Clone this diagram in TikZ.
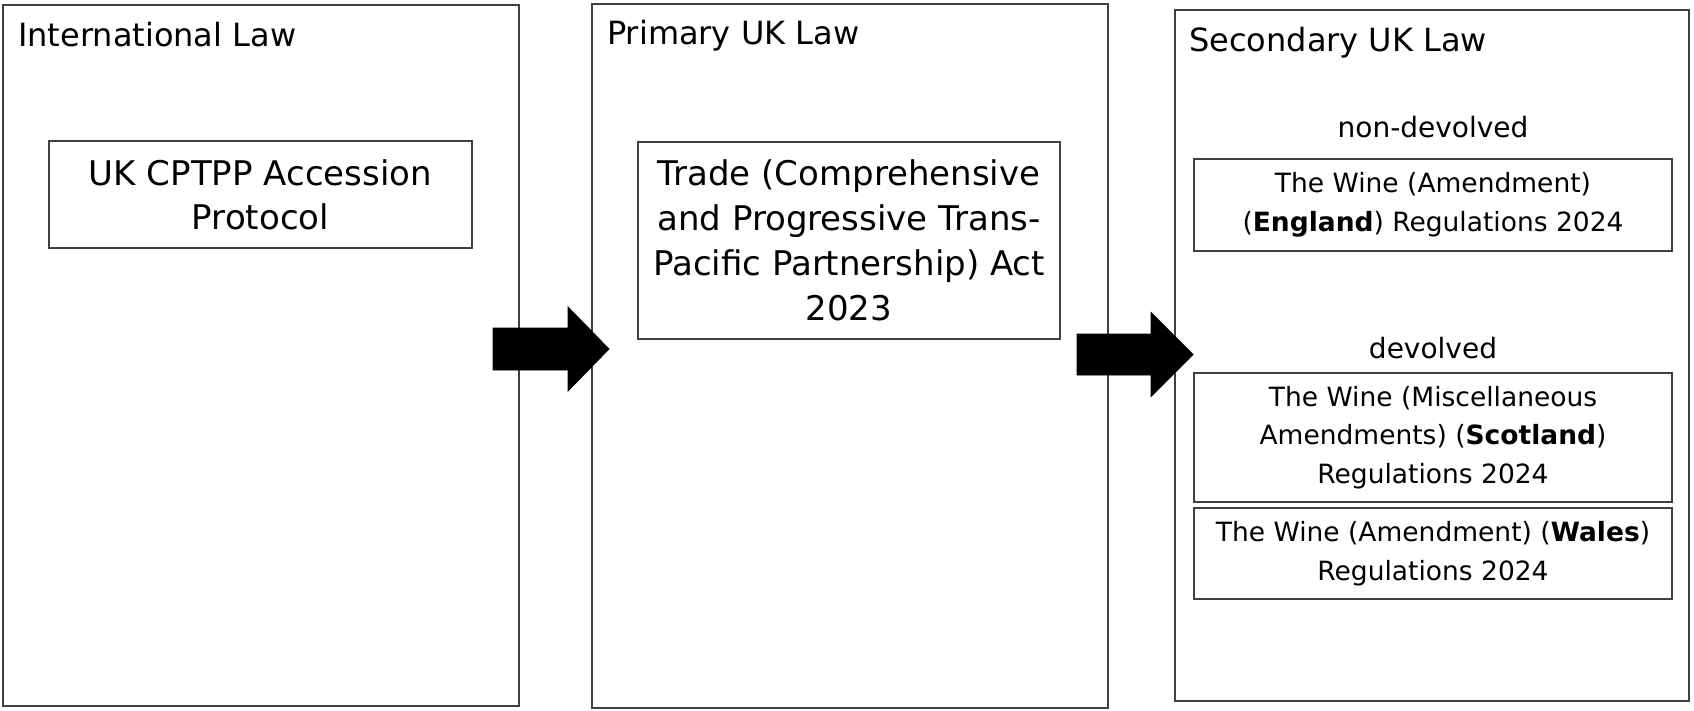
\documentclass[tikz,border=0pt]{standalone}
\usepackage{fontspec}
\setmainfont{DejaVu Sans}
\begin{document}
\begin{tikzpicture}[x=1pt,y=-1pt,
  panel/.style={draw=black!75, line width=1.6pt, inner sep=0pt, anchor=north west},
  lawbox/.style={draw=black!75, line width=1.3pt, inner sep=0pt, align=center, font=\fontsize{34}{44}\selectfont},
  regbox/.style={draw=black!75, line width=1.3pt, inner sep=0pt, align=center, minimum width=478pt, font=\fontsize{26.5}{38.5}\selectfont},
  title/.style={anchor=base west, inner sep=0pt, font=\fontsize{32}{38}\selectfont},
  subhead/.style={inner sep=0pt, font=\fontsize{28}{34}\selectfont},
  blockarrow/.style={fill=black, draw=black, line width=0.8pt, line join=miter}]
\useasboundingbox (0,0) rectangle (1694,711);

% panels
\node[panel, minimum width=516pt, minimum height=701pt] (p1) at (2,4) {};
\node[panel, minimum width=516pt, minimum height=704pt] (p2) at (591,3) {};
\node[panel, minimum width=514pt, minimum height=691pt] (p3) at (1174,9) {};

% titles
\node[title] (t1) at (18,47) {International Law};
\node[title] (t2) at (607,45) {Primary UK Law};
\node[title] (t3) at (1189,52) {Secondary UK Law};

% inner boxes
\node[lawbox, minimum width=423pt, minimum height=107pt] (b1) at (260.5,194.5) {UK CPTPP Accession\\Protocol};
\node[lawbox, minimum width=422pt, minimum height=197pt, font=\fontsize{34}{45}\selectfont] (b2) at (849,240.5) {Trade (Comprehensive\\and Progressive Trans-\\Pacific Partnership) Act\\2023};

\node[subhead] (nd) at (1433,127) {non-devolved};
\node[regbox, minimum height=92pt] (eng) at (1433,205) {The Wine (Amendment)\\(\textbf{England}) Regulations 2024};
\node[subhead] (dv) at (1433,348) {devolved};
\node[regbox, minimum height=129pt] (sco) at (1433,437.5) {The Wine (Miscellaneous\\Amendments) (\textbf{Scotland})\\Regulations 2024};
\node[regbox, minimum height=91pt] (wal) at (1433,553.5) {The Wine (Amendment) (\textbf{Wales})\\Regulations 2024};

% block arrows
\coordinate (a1) at (493,349);
\coordinate (a2) at (1077,354.5);
\draw[blockarrow] (a1) +(0,-21) -- +(75,-21) -- +(75,-42) -- +(116,0) -- +(75,42) -- +(75,21) -- +(0,21) -- cycle;
\draw[blockarrow] (a2) +(0,-20.5) -- +(74,-20.5) -- +(74,-42) -- +(116,0) -- +(74,42) -- +(74,20.5) -- +(0,20.5) -- cycle;
\end{tikzpicture}
\end{document}
